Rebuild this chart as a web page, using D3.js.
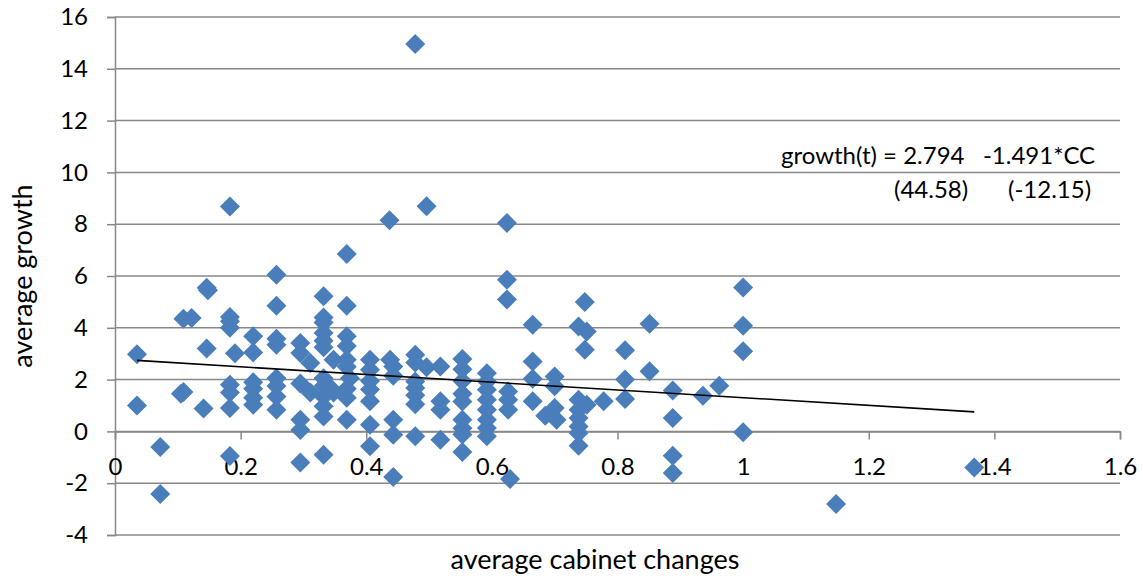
<!DOCTYPE html>
<html>
<head>
<meta charset="utf-8">
<script src="https://cdn.jsdelivr.net/npm/d3@7/dist/d3.min.js"></script>
<style>
  html, body { margin: 0; padding: 0; background: #fff; }
  svg { display: block; }
  text { font-family: Lato, "Open Sans", sans-serif; fill: #000; }
</style>
</head>
<body>
<svg id="chart" width="1143" height="579"></svg>
<script>
// Average cabinet changes (x) and average growth (y), one entry per country
const cabinetChanges = [
  0.035, 0.035,
  0.072, 0.072,
  0.109, 0.109, 0.105,
  0.122,
  0.141,
  0.146, 0.148, 0.146,
  0.183, 0.183, 0.183, 0.183, 0.183, 0.183, 0.183, 0.183,
  0.191,
  0.220, 0.220, 0.220, 0.220, 0.220, 0.220,
  0.257, 0.257, 0.257, 0.257, 0.257, 0.257, 0.257, 0.257,
  0.295, 0.295, 0.295, 0.295, 0.295, 0.295,
  0.311, 0.311,
  0.332, 0.332, 0.332, 0.332, 0.332, 0.332, 0.332, 0.332, 0.332, 0.332, 0.332, 0.332,
  0.342, 0.348, 0.348,
  0.369, 0.369, 0.369, 0.369, 0.369, 0.369, 0.374, 0.369, 0.369, 0.369,
  0.406, 0.406, 0.406, 0.406, 0.406, 0.406, 0.406,
  0.437,
  0.438, 0.443, 0.443, 0.443, 0.443, 0.443,
  0.478, 0.478, 0.478, 0.478, 0.478, 0.478, 0.478, 0.478,
  0.496, 0.496,
  0.518, 0.518, 0.518, 0.518,
  0.553, 0.553, 0.553, 0.553, 0.553, 0.553, 0.553, 0.553, 0.553,
  0.592, 0.592, 0.592, 0.592, 0.592, 0.592, 0.592, 0.592,
  0.624, 0.624, 0.624, 0.626, 0.626, 0.626, 0.629,
  0.665, 0.665, 0.665, 0.665,
  0.685, 0.700, 0.700, 0.700, 0.703,
  0.738, 0.738, 0.738, 0.738, 0.738, 0.738, 0.738,
  0.748, 0.751, 0.748, 0.751,
  0.778,
  0.812, 0.812, 0.812,
  0.851, 0.851,
  0.888, 0.888, 0.888, 0.888,
  0.936, 0.962,
  1.000, 1.000, 1.000, 1.000,
  1.148, 1.368
];
const averageGrowth = [
  2.98, 1.00,
  -0.60, -2.42,
  4.35, 1.52, 1.45,
  4.38,
  0.88,
  5.55, 5.45, 3.20,
  8.68, 4.42, 4.25, 4.00, 1.80, 1.50, 0.90, -0.95,
  3.02,
  3.67, 3.05, 1.90, 1.65, 1.30, 1.03,
  6.05, 4.85, 3.58, 3.35, 2.05, 1.75, 1.35, 0.84,
  3.41, 3.03, 1.85, 0.45, 0.05, -1.20,
  2.64, 1.50,
  5.22, 4.40, 4.20, 3.80, 3.50, 3.25, 2.05, 1.75, 1.35, 0.97, 0.58, -0.90,
  1.70, 2.77, 1.50,
  6.85, 4.85, 3.67, 3.30, 2.77, 2.50, 2.05, 1.65, 1.30, 0.45,
  2.77, 2.38, 1.95, 1.62, 1.16, 0.26, -0.57,
  8.15,
  2.77, 2.51, 2.15, 0.45, -0.13, -1.76,
  14.96, 2.96, 2.66, 1.93, 1.68, 1.40, 1.05, -0.19,
  8.69, 2.48,
  2.51, 1.16, 0.84, -0.32,
  2.80, 2.40, 1.95, 1.45, 1.15, 0.45, 0.12, -0.12, -0.80,
  2.25, 1.93, 1.61, 1.22, 0.84, 0.45, 0.13, -0.19,
  8.05, 5.86, 5.09, 1.54, 1.22, 0.84, -1.84,
  4.12, 2.70, 2.03, 1.16,
  0.60, 2.12, 1.74, 0.90, 0.45,
  4.05, 1.22, 0.84, 0.52, 0.19, -0.06, -0.55,
  5.00, 3.86, 3.15, 1.03,
  1.16,
  3.13, 2.00, 1.25,
  4.16, 2.32,
  1.58, 0.52, -0.94, -1.61,
  1.38, 1.76,
  5.56, 4.08, 3.09, -0.03,
  -2.80, -1.39
];

// Axis ticks
const xTicks = [0, 0.2, 0.4, 0.6, 0.8, 1, 1.2, 1.4, 1.6];
const yTicks = [-4, -2, 0, 2, 4, 6, 8, 10, 12, 14, 16];

// Fitted regression: growth = intercept + slope * CC, with t-statistics
const intercept = 2.794;
const slope = -1.491;
const equationText = "growth(t) = 2.794   -1.491*CC";
const tStats = ["(44.58)", "(-12.15)"];

const svg = d3.select("#chart");
const plot = { left: 115, right: 1120, top: 17, bottom: 535 };

const x = d3.scaleLinear().domain([0, 1.6]).range([plot.left, plot.right]);
const y = d3.scaleLinear().domain([-4, 16]).range([plot.bottom, plot.top]);

const gridColor = "#888888";
const tickFont = 24;

// Horizontal gridlines
svg.append("g")
  .selectAll("line")
  .data(yTicks)
  .join("line")
  .attr("x1", plot.left).attr("x2", plot.right)
  .attr("y1", d => y(d)).attr("y2", d => y(d))
  .attr("stroke", gridColor)
  .attr("stroke-width", 1.5);

// Vertical axis with tick marks on the left
const yAxis = d3.axisLeft(y).tickValues(yTicks).tickSize(8).tickPadding(19)
  .tickFormat(d => String(d));
const gy = svg.append("g").attr("transform", `translate(${plot.left},0)`).call(yAxis);
gy.select(".domain").attr("stroke", gridColor).attr("stroke-width", 1.5);
gy.selectAll(".tick line").attr("stroke", gridColor).attr("stroke-width", 1.5);
gy.selectAll(".tick text").attr("font-size", tickFont).attr("font-family", "Lato, sans-serif").attr("fill", "#000");

// Horizontal axis runs along zero, ticks hanging below it
const xAxis = d3.axisBottom(x).tickValues(xTicks).tickSize(8).tickPadding(19)
  .tickFormat(d => String(d));
const gx = svg.append("g").attr("transform", `translate(0,${y(0)})`).call(xAxis);
gx.select(".domain").attr("stroke", gridColor).attr("stroke-width", 1.5);
gx.selectAll(".tick line").attr("stroke", gridColor).attr("stroke-width", 1.5);
gx.selectAll(".tick text").attr("font-size", tickFont).attr("font-family", "Lato, sans-serif").attr("fill", "#000");

// Data markers: rotated squares
const diamond = d3.symbol().type(d3.symbolSquare).size(200);
const points = cabinetChanges.map((c, i) => ({ cc: c, g: averageGrowth[i] }));
svg.append("g")
  .selectAll("path")
  .data(points)
  .join("path")
  .attr("d", diamond)
  .attr("transform", d => `translate(${x(d.cc)},${y(d.g)}) rotate(45)`)
  .attr("fill", "#4a7ebb");

// Regression line across the observed range
const ccExtent = d3.extent(cabinetChanges);
svg.append("line")
  .attr("x1", x(ccExtent[0])).attr("y1", y(intercept + slope * ccExtent[0]))
  .attr("x2", x(ccExtent[1])).attr("y2", y(intercept + slope * ccExtent[1]))
  .attr("stroke", "#000")
  .attr("stroke-width", 1.6);

// Equation and t-statistics
svg.append("text").attr("x", 781).attr("y", 164).attr("font-size", 24)
  .style("white-space", "pre")
  .text(equationText);
svg.append("text").attr("x", 894).attr("y", 198).attr("font-size", 24)
  .text(tStats[0]);
svg.append("text").attr("x", 1008).attr("y", 198).attr("font-size", 24)
  .text(tStats[1]);

// Axis titles
svg.append("text")
  .attr("x", 595).attr("y", 569)
  .attr("text-anchor", "middle").attr("font-size", 27)
  .text("average cabinet changes");
svg.append("text")
  .attr("transform", `translate(32,${(plot.top + plot.bottom) / 2}) rotate(-90)`)
  .attr("text-anchor", "middle").attr("font-size", 27)
  .text("average growth");
</script>
</body>
</html>
